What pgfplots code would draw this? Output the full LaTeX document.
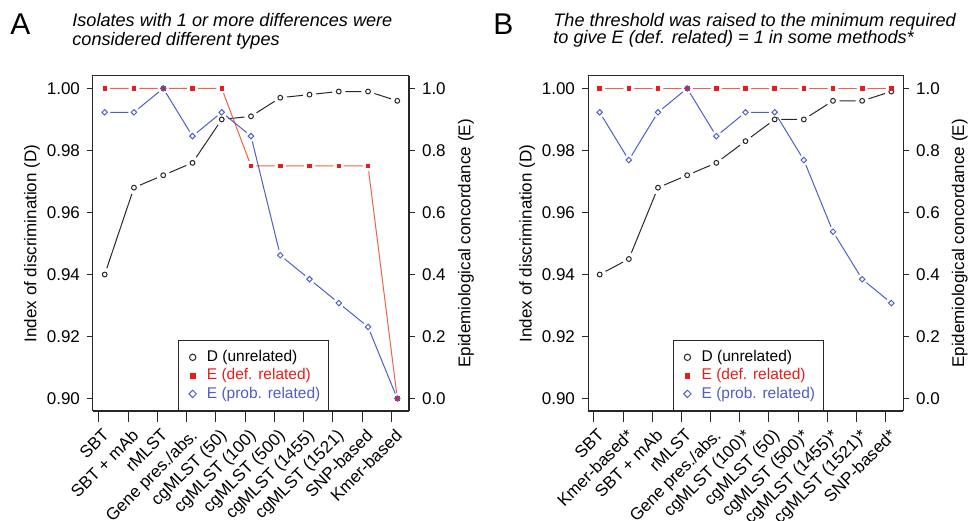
\documentclass[border=0pt]{standalone}
\usepackage{pgfplots}
\pgfplotsset{compat=1.18}
\usepackage{pgfplotstable}
\usepackage{fontspec}
\setmainfont{Liberation Sans}

\definecolor{redM}{RGB}{232,28,28}
\definecolor{redL}{RGB}{242,96,72}
\definecolor{blueC}{RGB}{78,94,200}
\definecolor{greyL}{RGB}{40,40,40}

% x = method index, D = index of discrimination, Edef / Eprob = concordance
\pgfplotstableread{
x D Edef Eprob
1 0.940 1 0.923
2 0.968 1 0.923
3 0.972 1 1
4 0.976 1 0.846
5 0.990 1 0.923
6 0.991 0.75 0.846
7 0.997 0.75 0.462
8 0.998 0.75 0.385
9 0.999 0.75 0.308
10 0.999 0.75 0.231
11 0.996 0 0
}\dataA

\pgfplotstableread{
x D Edef Eprob
1 0.940 1 0.923
2 0.945 1 0.769
3 0.968 1 0.923
4 0.972 1 1
5 0.976 1 0.846
6 0.983 1 0.923
7 0.990 1 0.923
8 0.990 1 0.769
9 0.996 1 0.538
10 0.996 1 0.385
11 0.999 1 0.308
}\dataB

\pgfplotsset{
  panel/.style={scale only axis, width=158pt, height=167.5pt,
    xmin=0.6, xmax=11.4, anchor=south west,
    /pgf/number format/assume math mode=true,
    tick label style={font=\fontsize{8.5}{10}\selectfont},
    label style={font=\fontsize{8.5}{10}\selectfont},
    tick align=outside, major tick length=3pt,
    axis line style={line width=0.5pt, greyL},
    tick style={line width=0.5pt, greyL}},
  dpanel/.style={panel, ymin=0.896, ymax=1.004},
  epanel/.style={panel, ymin=-0.04, ymax=1.04},
  leftax/.style={dpanel, xtick=\empty, ytick pos=left,
    ytick={0.90,0.92,0.94,0.96,0.98,1.00},
    yticklabel style={/pgf/number format/.cd, fixed, fixed zerofill, precision=2},
    ylabel={Index of discrimination (D)},
    ylabel style={at={(axis description cs:-0.193,0.5)}, anchor=center}},
  rightax/.style={epanel, axis x line=none, axis y line*=right,
    ytick={0,0.2,0.4,0.6,0.8,1.0},
    yticklabel style={/pgf/number format/.cd, fixed, fixed zerofill, precision=1},
    ylabel={Epidemiological concordance (E)},
    ylabel style={at={(axis description cs:1.18,0.5)}, anchor=center}},
  halo/.style={only marks, mark=*, mark size=#1, white, forget plot},
  dline/.style={greyL, line width=0.5pt, forget plot},
  redline/.style={redL, line width=0.5pt, forget plot},
  blueline/.style={blueC, line width=0.5pt, forget plot},
  dmark/.style={only marks, mark=o, mark size=1.2pt, mark options={line width=0.5pt, greyL}},
  redmark/.style={only marks, mark=square*, mark size=0.9pt, mark options={redM, draw=redM}},
  bluemark/.style={only marks, mark=square, mark size=0.97pt, mark options={rotate=45, line width=0.5pt, blueC}},
  mylegend/.style={legend image code/.code={%
    \path[draw=none, fill=none] (0pt,-2pt) rectangle (14.2pt,2pt);
    \draw[mark repeat=2,mark phase=2,##1]
      plot coordinates {(0pt,0pt)(7.1pt,0pt)(14.2pt,0pt)};}},
  legax/.style={epanel, axis y line=none, axis x line*=bottom,
    major tick length=5.5pt, xtick pos=bottom,
    xtick={0.8,1.8,2.8,3.8,4.8,5.8,6.8,7.8,8.8,9.8,10.8},
    xticklabel style={rotate=45, anchor=north east, inner sep=1pt, yshift=-2pt},
    legend cell align=left,
    legend style={at={(0.269,0)}, anchor=south west, draw=greyL, line width=0.5pt,
      fill=white, inner xsep=0pt, inner ysep=4.6pt, row sep=1.75pt,
      nodes={inner sep=0pt, text height=5.8pt, text depth=1.6pt},
      font=\fontsize{7.75}{9}\selectfont}},
}
\tikzset{
  titlefont/.style={inner sep=0pt, anchor=base west, font=\itshape\fontsize{9.05}{10}\selectfont},
  letterfont/.style={inner sep=0pt, anchor=base west, font=\fontsize{15}{16}\selectfont},
}

\begin{document}
\begin{tikzpicture}
\path[use as bounding box] (0pt,0pt) rectangle (485pt,260pt);

% ---------------- panel A ----------------
\node[letterfont] at (5pt,242.85pt) {A};
\node[titlefont] at (36pt,246.65pt) {Isolates with 1 or more differences were};
\node[titlefont] at (36pt,237.25pt) {considered different types};

\begin{axis}[leftax, at={(46.5pt,54.5pt)}]
  \addplot[dline] table[x=x,y=D]{\dataA};
  \addplot[halo=3.1pt] table[x=x,y=D]{\dataA};
\end{axis}
\begin{axis}[rightax, at={(46.5pt,54.5pt)}]
  \addplot[redline] table[x=x,y=Edef]{\dataA};
  \addplot[halo=2.5pt] table[x=x,y=Edef]{\dataA};
  \addplot[blueline] table[x=x,y=Eprob]{\dataA};
  \addplot[halo=2.6pt] table[x=x,y=Eprob]{\dataA};
\end{axis}
\begin{axis}[dpanel, at={(46.5pt,54.5pt)}, hide axis]
  \addplot[dmark] table[x=x,y=D]{\dataA};
\end{axis}
\begin{axis}[legax, at={(46.5pt,54.5pt)},
  xticklabels={SBT, SBT + mAb, rMLST, Gene pres./abs., cgMLST (50), cgMLST (100),
    cgMLST (500), cgMLST (1455), cgMLST (1521), SNP-based, Kmer-based}]
  \addplot[redmark, forget plot] table[x=x,y=Edef]{\dataA};
  \addplot[bluemark, forget plot] table[x=x,y=Eprob]{\dataA};
  \addlegendimage{only marks, mylegend, mark=o, mark size=1.6pt, mark options={line width=0.5pt, greyL}}
  \addlegendentry{D (unrelated)\hspace*{4pt}}
  \addlegendimage{only marks, mylegend, mark=square*, mark size=1.2pt, mark options={redM, draw=redM}}
  \addlegendentry{\textcolor{redM}{E (def. related)}\hspace*{4pt}}
  \addlegendimage{only marks, mylegend, mark=square, mark size=1.3pt, mark options={rotate=45, line width=0.5pt, blueC}}
  \addlegendentry{\textcolor{blueC}{E (prob. related)}\hspace*{4pt}}
\end{axis}

% ---------------- panel B ----------------
\node[letterfont] at (246.5pt,242.85pt) {B};
\node[titlefont] at (276.5pt,246.65pt) {The threshold was raised to the minimum required};
\node[titlefont] at (276.5pt,238.35pt) {to give E (def. related) = 1 in some methods*};

\begin{axis}[leftax, at={(294pt,54.5pt)}, width=157.5pt]
  \addplot[dline] table[x=x,y=D]{\dataB};
  \addplot[halo=3.1pt] table[x=x,y=D]{\dataB};
\end{axis}
\begin{axis}[rightax, at={(294pt,54.5pt)}, width=157.5pt]
  \addplot[redline] table[x=x,y=Edef]{\dataB};
  \addplot[halo=2.5pt] table[x=x,y=Edef]{\dataB};
  \addplot[blueline] table[x=x,y=Eprob]{\dataB};
  \addplot[halo=2.6pt] table[x=x,y=Eprob]{\dataB};
\end{axis}
\begin{axis}[dpanel, at={(294pt,54.5pt)}, width=157.5pt, hide axis]
  \addplot[dmark] table[x=x,y=D]{\dataB};
\end{axis}
\begin{axis}[legax, at={(294pt,54.5pt)}, width=157.5pt,
  xticklabels={SBT, Kmer-based*, SBT + mAb, rMLST, Gene pres./abs., cgMLST (100)*,
    cgMLST (50), cgMLST (500)*, cgMLST (1455)*, cgMLST (1521)*, SNP-based*}]
  \addplot[redmark, forget plot] table[x=x,y=Edef]{\dataB};
  \addplot[bluemark, forget plot] table[x=x,y=Eprob]{\dataB};
  \addlegendimage{only marks, mylegend, mark=o, mark size=1.6pt, mark options={line width=0.5pt, greyL}}
  \addlegendentry{D (unrelated)\hspace*{4pt}}
  \addlegendimage{only marks, mylegend, mark=square*, mark size=1.2pt, mark options={redM, draw=redM}}
  \addlegendentry{\textcolor{redM}{E (def. related)}\hspace*{4pt}}
  \addlegendimage{only marks, mylegend, mark=square, mark size=1.3pt, mark options={rotate=45, line width=0.5pt, blueC}}
  \addlegendentry{\textcolor{blueC}{E (prob. related)}\hspace*{4pt}}
\end{axis}
\end{tikzpicture}
\end{document}
